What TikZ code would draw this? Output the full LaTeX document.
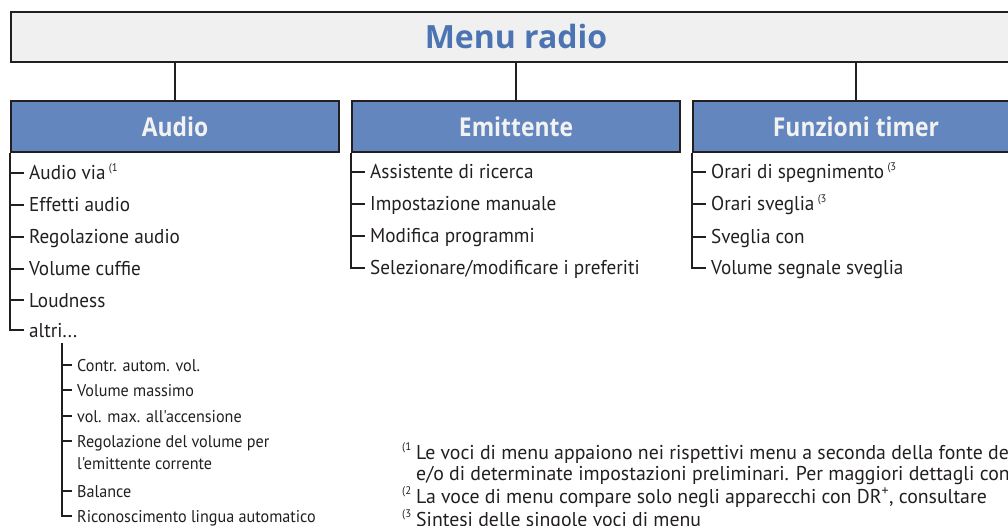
\documentclass[tikz,border=0pt]{standalone}
\usepackage{fontspec}
\setmainfont{PT Sans}
\newfontfamily\itemfont{PT Sans}[FakeStretch=0.96]
\newfontfamily\subfont{PT Sans}[FakeStretch=0.95]
\newfontfamily\notefont{PT Sans}[FakeStretch=0.99]
\newfontfamily\headfont{Open Sans}[FakeStretch=0.88]
\newfontfamily\titlefont{Open Sans}[FakeStretch=1.0]
\definecolor{linec}{HTML}{231F20}
\definecolor{titlefill}{HTML}{F0F0F0}
\definecolor{secblue}{HTML}{6486BE}
\definecolor{titleblue}{HTML}{4C73B2}
\definecolor{headtext}{HTML}{F2F2F2}
\definecolor{textc}{HTML}{231F20}
\newcommand\refmark[1]{\,\raisebox{0.42em}{\fontsize{11}{11}\selectfont(#1}}
\tikzset{
  titlebox/.style={draw=linec, fill=titlefill, line width=2pt, minimum width=1010pt, minimum height=50pt, anchor=north west, inner sep=0pt, text=titleblue, font=\titlefont\bfseries\fontsize{32}{32}\selectfont},
  secbox/.style={draw=linec, fill=secblue, line width=2pt, minimum height=51pt, anchor=north west, inner sep=0pt, text=headtext, font=\headfont\bfseries\fontsize{26}{26}\selectfont},
  conn/.style={draw=linec, line width=1.8pt},
  tick/.style={draw=linec, line width=1.4pt},
  item/.style={anchor=west, inner xsep=5pt, inner ysep=0pt, text height=14pt, text depth=0pt, text=textc, font=\itemfont\fontsize{20}{24}\selectfont},
  subitem/.style={anchor=west, inner xsep=5pt, inner ysep=0pt, text height=12pt, text depth=0pt, text=textc, font=\subfont\fontsize{17}{20}\selectfont},
  note/.style={anchor=west, inner xsep=5pt, inner ysep=0pt, text height=14pt, text depth=0pt, text=textc, font=\notefont\fontsize{20}{24}\selectfont}
}
\begin{document}
\begin{tikzpicture}[x=1pt,y=-1pt]
\useasboundingbox (0,0) rectangle (1008,526);
\clip (0,0) rectangle (1008,526);
% title
\node[titlebox] (menu) at (10,11) {\raisebox{-1.5pt}{Menu radio}};
% sections
\node[secbox, minimum width=328pt] (audio) at (10,100) {Audio};
\node[secbox, minimum width=328pt] (emit) at (351,100) {Emittente};
\node[secbox, minimum width=326pt] (timer) at (692,100) {Funzioni timer};
\draw[conn] (menu.south -| audio.north) -- (audio.north);
\draw[conn] (menu.south -| emit.north) -- (emit.north);
\draw[conn] (menu.south -| timer.north) -- (timer.north);
% audio list
\node[item] (a1) at (24,173) {Audio via\refmark{1}};
\node[item] (a2) at (24,205) {Effetti audio};
\node[item] (a3) at (24,237) {Regolazione audio};
\node[item] (a4) at (24,269) {Volume cuffie};
\node[item] (a5) at (24,300) {Loudness};
\node[item] (a6) at (24,330) {altri...};
\draw[tick] (audio.south west) |- (a6.west);
\foreach \n in {a1,a2,a3,a4,a5} \draw[tick] (\n.west -| audio.south west) -- (\n.west);
% sub list
\coordinate (subtop) at (62,343);
\node[subitem] (s1) at (72,365) {Contr. autom. vol.};
\node[subitem] (s2) at (72,390) {Volume massimo};
\node[subitem] (s3) at (72,416) {vol. max. all'accensione};
\node[subitem] (s4) at (72,441) {Regolazione del volume per};
\node[subitem] (s4b) at (72,463) {l'emittente corrente};
\node[subitem] (s5) at (72,491) {Balance};
\node[subitem] (s6) at (72,516) {Riconoscimento lingua automatico};
\draw[tick] (subtop) |- (s6.west);
\foreach \n in {s1,s2,s3,s4,s5} \draw[tick] (\n.west -| subtop) -- (\n.west);
% emittente list
\node[item] (e1) at (365,172) {Assistente di ricerca};
\node[item] (e2) at (365,204) {Impostazione manuale};
\node[item] (e3) at (365,236) {Modifica programmi};
\node[item] (e4) at (365,268) {Selezionare/modificare i preferiti};
\draw[tick] (emit.south west) |- (e4.west);
\foreach \n in {e1,e2,e3} \draw[tick] (\n.west -| emit.south west) -- (\n.west);
% timer list
\node[item] (t1) at (706,172) {Orari di spegnimento\refmark{3}};
\node[item] (t2) at (706,204) {Orari sveglia\refmark{3}};
\node[item] (t3) at (706,237) {Sveglia con};
\node[item] (t4) at (706,268) {Volume segnale sveglia};
\draw[tick] (timer.south west) |- (t4.west);
\foreach \n in {t1,t2,t3} \draw[tick] (\n.west -| timer.south west) -- (\n.west);
% notes
\node[note] (f1) at (411,452) {\llap{\refmark{1}\hspace{5pt}}Le voci di menu appaiono nei rispettivi menu a seconda della fonte de};
\node[note] (f1b) at (411,473) {e/o di determinate impostazioni preliminari. Per maggiori dettagli cons};
\node[note] (f2) at (411,496) {\llap{\refmark{2}\hspace{5pt}}La voce di menu compare solo negli apparecchi con DR\textsuperscript{+}, consultare};
\node[note] (f3) at (411,519) {\llap{\refmark{3}\hspace{5pt}}Sintesi delle singole voci di menu};
\end{tikzpicture}
\end{document}
